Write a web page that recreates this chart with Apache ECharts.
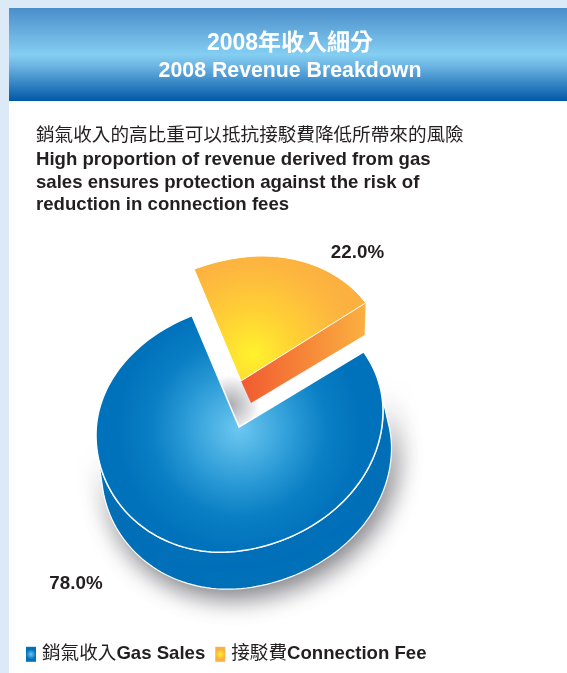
<!DOCTYPE html>
<html>
<head>
<meta charset="utf-8">
<title>2008 Revenue Breakdown</title>
<style>
  html, body { margin: 0; padding: 0; background: #fff; }
  #chart { width: 567px; height: 673px; }
</style>
<script src="https://cdn.jsdelivr.net/npm/echarts@6/dist/echarts.min.js"></script>
</head>
<body>
<div id="chart"></div>
<script>
const categoriesZh = ["銷氣收入", "接駁費"];
const categoriesEn = ["Gas Sales", "Connection Fee"];
const shares = [78.0, 22.0];

const titleZh = "2008年收入細分";
const titleEn = "2008 Revenue Breakdown";
const noteZh = "銷氣收入的高比重可以抵抗接駁費降低所帶來的風險";
const noteEn = ["High proportion of revenue derived from gas", "sales ensures protection against the risk of", "reduction in connection fees"];

const FONT = '"Liberation Sans", "Noto Sans CJK TC", sans-serif';
const INK = "#231f20";

// the pie is a tilted circle in perspective, echarts' own pie can't draw it
const startDeg = -109.3;
const total = shares[0] + shares[1];
const sweep = shares.map((v) => (v / total) * 360);

// angle on the tilted circle -> point on screen
const onDisc = (disc, deg) => {
  const t = (deg * Math.PI) / 180;
  const c = Math.cos(t);
  const s = Math.sin(t);
  const skew = -18.5 * c + 6.5 * c * Math.abs(c);
  return [disc.x + disc.rx * c, disc.y + skew + (s < 0 ? disc.ryFar : disc.ryNear) * s];
};

const arc = (disc, from, to) => {
  const pts = [];
  const n = Math.ceil(Math.abs(to - from) / 2);
  for (let i = 0; i <= n; i++) {
    pts.push(onDisc(disc, from + ((to - from) * i) / n));
  }
  return pts;
};

const radial = (x, y, r, stops) =>
  new echarts.graphic.RadialGradient(x, y, r, stops, true);

const label = (text, x, y) => ({
  type: "text",
  style: { text, x, y, align: "center", verticalAlign: "middle", fill: INK, font: "bold 18.8px " + FONT },
});

const renderGas = (params, api) => {
  const disc = { x: 239.5, y: 423, rx: 143.5, ryFar: 119.5, ryNear: 128 };
  const floor = { x: 246.5, y: 460, rx: 145, ryFar: 119.5, ryNear: 128 };
  const tip = [239, 427];
  const from = startDeg + sweep[1];
  const to = startDeg + 360;
  return {
    type: "group",
    children: [
      {
        type: "polygon",
        shape: { points: arc(disc, -12, 172).concat(arc(floor, 172, -12)) },
        style: {
          fill: "#0072bc", stroke: "#fff", lineWidth: 1.2,
          shadowBlur: 24, shadowColor: "rgba(40,40,50,0.6)", shadowOffsetX: 5, shadowOffsetY: 9,
        },
      },
      // soft shade left in the gap next to the cut
      {
        type: "circle",
        shape: { cx: 230, cy: 405, r: 30 },
        style: {
          fill: radial(230, 405, 30, [
            { offset: 0, color: "rgba(140,140,150,0.75)" },
            { offset: 1, color: "rgba(140,140,150,0)" },
          ]),
        },
      },
      {
        type: "polygon",
        shape: { points: [tip].concat(arc(disc, from, to)) },
        style: {
          fill: radial(tip[0], tip[1] + 2, 122, [
            { offset: 0, color: "#6cc7f0" },
            { offset: 0.45, color: "#2a9ad6" },
            { offset: 0.72, color: "#0a7fc4" },
            { offset: 1, color: "#0072bc" },
          ]),
          stroke: "#fff", lineWidth: 1.5,
        },
      },
      label(api.value(0).toFixed(1) + "%", 76, 584),
    ],
  };
};

const renderFee = (params, api) => {
  const disc = { x: 241.5, y: 371, rx: 143.5, ryFar: 113.6, ryNear: 113.6 };
  const tip = [241, 381];
  const top = arc(disc, startDeg, startDeg + sweep[1]);
  const corner = top[top.length - 1];
  return {
    type: "group",
    children: [
      {
        type: "polygon",
        shape: { points: [tip, corner, [corner[0] - 1, corner[1] + 32], [tip[0] + 10, tip[1] + 22]] },
        style: {
          fill: new echarts.graphic.LinearGradient(tip[0], 0, corner[0], 0, [
            { offset: 0, color: "#f15a30" },
            { offset: 1, color: "#fbb040" },
          ], true),
        },
      },
      {
        type: "polygon",
        shape: { points: [tip].concat(top) },
        style: {
          fill: radial(tip[0] + 12, tip[1] - 26, 112, [
            { offset: 0, color: "#fff22d" },
            { offset: 0.4, color: "#ffd035" },
            { offset: 0.8, color: "#fdb63f" },
            { offset: 1, color: "#fbb040" },
          ]),
          stroke: "#fff", lineWidth: 1,
        },
      },
      label(api.value(0).toFixed(1) + "%", 357.5, 253),
    ],
  };
};

const chart = echarts.init(document.getElementById("chart"), null, { renderer: "canvas" });

const legendNames = categoriesZh.map((z, i) => z + categoriesEn[i]);

chart.setOption({
  animation: false,
  backgroundColor: "#fff",
  graphic: [
    { type: "rect", z: -10, shape: { x: 0, y: 0, width: 567, height: 8 }, style: { fill: "#dce9f6" } },
    { type: "rect", z: -10, shape: { x: 0, y: 0, width: 9, height: 673 }, style: { fill: "#dce9f6" } },
    {
      type: "rect",
      z: -9,
      shape: { x: 9, y: 8, width: 558, height: 93 },
      style: {
        fill: new echarts.graphic.LinearGradient(0, 0, 0, 1, [
          { offset: 0, color: "#4a8ecb" },
          { offset: 0.5, color: "#84cef2" },
          { offset: 0.62, color: "#6db5e3" },
          { offset: 1, color: "#0058a6" },
        ]),
      },
    },
    { type: "text", style: { text: titleZh, x: 290, y: 44, align: "center", verticalAlign: "middle", fill: "#fff", font: "bold 23px " + FONT } },
    { type: "text", style: { text: titleEn, x: 290, y: 71, align: "center", verticalAlign: "middle", fill: "#fff", font: "bold 21.3px " + FONT } },
    { type: "text", style: { text: noteZh, x: 36, y: 136, verticalAlign: "middle", fill: INK, font: "18.6px " + FONT } },
    ...noteEn.map((line, i) => ({
      type: "text",
      style: { text: line, x: 36, y: 160 + i * 22.5, verticalAlign: "middle", fill: INK, font: "bold 18.6px " + FONT },
    })),
  ],
  legend: {
    left: 26,
    top: 645,
    padding: 0,
    itemWidth: 10,
    itemHeight: 15,
    itemGap: 10,
    icon: "rect",
    data: [
      {
        name: legendNames[0],
        itemStyle: {
          color: new echarts.graphic.RadialGradient(0.5, 0.5, 0.5, [
            { offset: 0, color: "#6cc7f0" },
            { offset: 1, color: "#0072bc" },
          ]),
        },
      },
      {
        name: legendNames[1],
        itemStyle: {
          color: new echarts.graphic.RadialGradient(0.5, 0.5, 0.5, [
            { offset: 0, color: "#fff22d" },
            { offset: 1, color: "#fbb040" },
          ]),
        },
      },
    ],
    formatter: (name) => {
      const i = legendNames.indexOf(name);
      return "{zh|" + categoriesZh[i] + "}{en|" + categoriesEn[i] + "}";
    },
    textStyle: {
      rich: {
        zh: { fontFamily: FONT, fontSize: 18.6, color: INK, padding: [0, 0, 0, 1] },
        en: { fontFamily: FONT, fontSize: 18.6, fontWeight: "bold", color: INK },
      },
    },
  },
  series: [
    { type: "custom", name: legendNames[0], coordinateSystem: "none", renderItem: renderGas, data: [[shares[0]]] },
    { type: "custom", name: legendNames[1], coordinateSystem: "none", renderItem: renderFee, data: [[shares[1]]] },
  ],
});
</script>
</body>
</html>
